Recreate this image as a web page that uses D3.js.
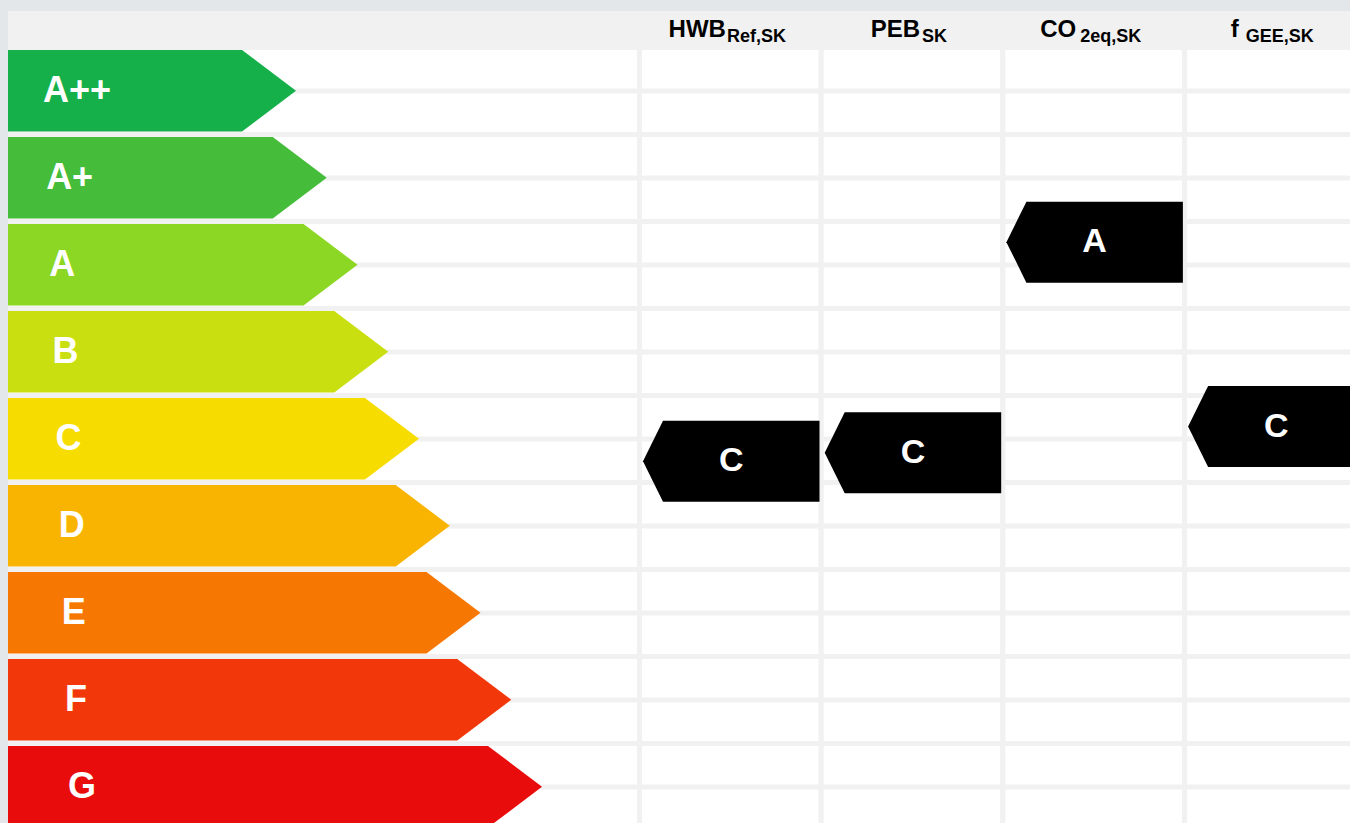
<!DOCTYPE html>
<html>
<head>
<meta charset="utf-8">
<script src="https://cdn.jsdelivr.net/npm/d3@7"></script>
<style>
  html, body { margin: 0; padding: 0; background: #e4e7ea; overflow: hidden; }
  svg { display: block; }
  text { font-family: "Liberation Sans", Arial, Helvetica, sans-serif; font-weight: bold; }
</style>
</head>
<body>
<svg id="chart" width="1350" height="823"></svg>
<script>
// ---- data ----
const classes = ["A++", "A+", "A", "B", "C", "D", "E", "F", "G"];
const classColors = ["#16b04a", "#45bd3a", "#8cd624", "#cadf10", "#f7dc00", "#f9b402", "#f77703", "#f2380a", "#e90c0c"];
const columnNames = ["HWB", "PEB", "CO", "f"];
const columnSubs = ["Ref,SK", "SK", "2eq,SK", "GEE,SK"];
const markerClasses = ["C", "C", "A", "C"];
const markerPositions = [4.26, 4.16, 1.74, 3.86];

(function () {
// ---- layout ----
const W = 1350, H = 823;
const svg = d3.select("#chart");

const leftX = 8, topY = 11, headerBottom = 50;
const rowPitch = 87, barH = 81.5, subPitch = 43.5, cellH = 38.5;
const labelColRight = 637;
const colPitch = 181.7, colW = 176.5, firstCol = 642;

const yCenter = d3.scaleLinear().domain([0, classes.length - 1])
  .range([headerBottom + barH / 2, headerBottom + barH / 2 + rowPitch * (classes.length - 1)]);
const xShoulder = d3.scaleLinear().domain([0, classes.length - 1]).range([242, 488]);
const xLabel = d3.scaleLinear().domain([0, classes.length - 1]).range([43, 68]);
const xCol = d3.scaleLinear().domain([0, 1]).range([firstCol, firstCol + colPitch]);
const tipDepth = 54, markerTip = 20, markerH = 81;

// background panel
svg.append("rect").attr("x", leftX).attr("y", topY).attr("width", W - leftX).attr("height", H - topY).attr("fill", "#f1f1f1");

// grid cells
const subRows = d3.range(0, Math.ceil((H - headerBottom) / subPitch) + 1);
const cellCols = [{ x: leftX, w: labelColRight - leftX }].concat(
  columnNames.map((d, i) => ({ x: xCol(i), w: colW }))
);
const g = svg.append("g");
subRows.forEach(k => {
  g.selectAll(null).data(cellCols).enter().append("rect")
    .attr("x", d => d.x)
    .attr("y", headerBottom + k * subPitch)
    .attr("width", d => d.w)
    .attr("height", cellH)
    .attr("fill", "#ffffff");
});

// class bars
const bars = svg.append("g").selectAll("g").data(classes).enter().append("g");
bars.append("path")
  .attr("d", (d, i) => {
    const t = yCenter(i) - barH / 2, b = yCenter(i) + barH / 2, s = xShoulder(i);
    return `M${leftX},${t}L${s},${t}L${s + tipDepth},${yCenter(i)}L${s},${b}L${leftX},${b}Z`;
  })
  .attr("fill", (d, i) => classColors[i]);
bars.append("text")
  .attr("x", (d, i) => xLabel(i))
  .attr("y", (d, i) => yCenter(i) + 11)
  .attr("font-size", 36)
  .attr("fill", "#ffffff")
  .text(d => d);

// headers
const subDx = [1, 2, 4, 7];
const headers = svg.append("g").selectAll("text").data(columnNames).enter().append("text")
  .attr("x", (d, i) => xCol(i) + colW / 2 - 3)
  .attr("y", 37)
  .attr("text-anchor", "middle")
  .attr("fill", "#000");
headers.append("tspan").attr("font-size", 24).text(d => d);
headers.append("tspan").attr("font-size", 18).attr("dx", (d, i) => subDx[i]).attr("dy", 5)
  .text((d, i) => columnSubs[i]);

// markers
const markers = svg.append("g").selectAll("g").data(markerClasses).enter().append("g");
markers.append("path")
  .attr("d", (d, i) => {
    const c = yCenter(markerPositions[i]);
    const l = xCol(i) + 1, r = xCol(i) + colW + 1;
    const t = c - markerH / 2, b = c + markerH / 2;
    return `M${l},${c}L${l + markerTip},${t}L${r},${t}L${r},${b}L${l + markerTip},${b}Z`;
  })
  .attr("fill", "#000");
markers.append("text")
  .attr("x", (d, i) => xCol(i) + colW / 2 + 1)
  .attr("y", (d, i) => yCenter(markerPositions[i]) + 10)
  .attr("text-anchor", "middle")
  .attr("font-size", 34)
  .attr("fill", "#fff")
  .text(d => d);
})();
</script>
</body>
</html>
